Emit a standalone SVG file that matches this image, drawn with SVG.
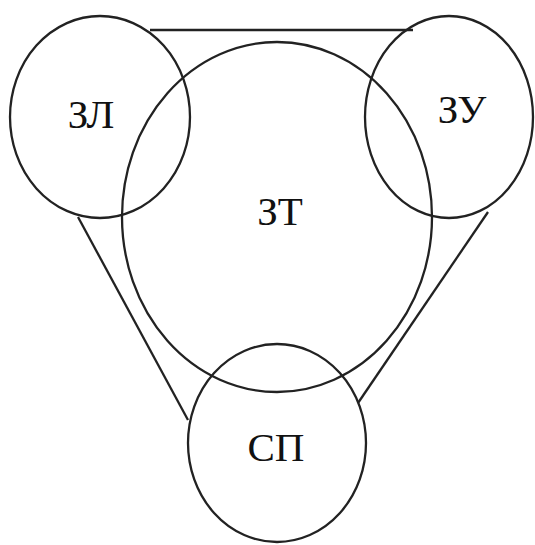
<svg xmlns="http://www.w3.org/2000/svg" width="535" height="545" viewBox="0 0 535 545">
<style>
.n{fill:none;stroke:#222;stroke-width:2.3}
.c{stroke:#222;stroke-width:2.3;fill:none}
text{font-family:"Liberation Serif","Times New Roman",serif;font-size:41px;fill:#111;text-anchor:middle}
</style>
<rect width="535" height="545" fill="#fff"/>
<g id="connectors">
<line class="c" x1="150" y1="30" x2="413" y2="30"/>
<line class="c" x1="78" y1="217" x2="188" y2="420"/>
<line class="c" x1="488" y1="212" x2="358" y2="403"/>
</g>
<g id="ZT"><ellipse class="n" cx="277" cy="217" rx="155" ry="175"/><text x="280" y="225">ЗТ</text></g>
<g id="ZL"><ellipse class="n" cx="100" cy="117" rx="90" ry="101"/><text x="91" y="128">ЗЛ</text></g>
<g id="ZU"><ellipse class="n" cx="449" cy="117" rx="84" ry="101"/><text x="462" y="123">ЗУ</text></g>
<g id="SP"><ellipse class="n" cx="277" cy="443" rx="89" ry="99"/><text x="276" y="461">СП</text></g>
</svg>
